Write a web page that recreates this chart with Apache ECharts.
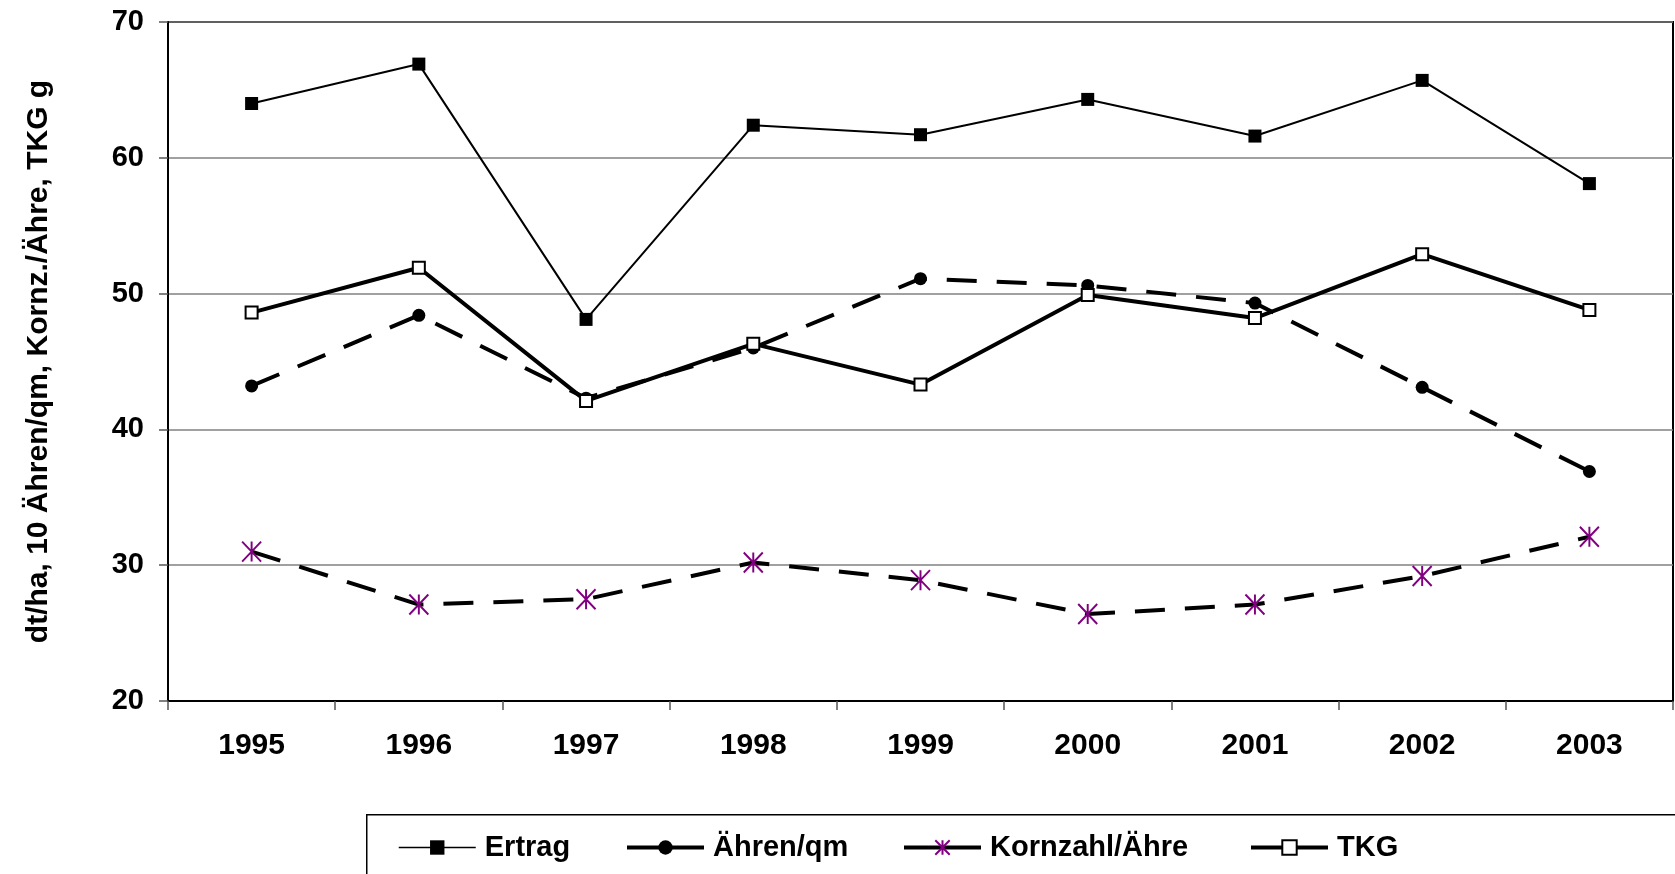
<!DOCTYPE html>
<html>
<head>
<meta charset="utf-8">
<script src="https://cdn.jsdelivr.net/npm/echarts@6/dist/echarts.min.js"></script>
<style>
html,body{margin:0;padding:0;background:#fff;}
#chart{width:1675px;height:874px;}
</style>
</head>
<body>
<div id="chart"></div>
<script>
const years = ['1995','1996','1997','1998','1999','2000','2001','2002','2003'];
const ertrag = [64.0, 66.9, 48.1, 62.4, 61.7, 64.3, 61.6, 65.7, 58.1];
const aehren = [43.2, 48.4, 42.3, 46.0, 51.1, 50.6, 49.3, 43.1, 36.9];
const kornzahl = [31.0, 27.1, 27.5, 30.2, 28.9, 26.4, 27.1, 29.2, 32.1];
const tkg = [48.6, 51.9, 42.1, 46.3, 43.3, 49.9, 48.2, 52.9, 48.8];
const seriesNames = ['Ertrag', 'Ähren/qm', 'Kornzahl/Ähre', 'TKG'];
const yTitle = 'dt/ha, 10 Ähren/qm, Kornz./Ähre, TKG g';

const FONT = '"Liberation Sans", Arial, sans-serif';
const asterisk = 'path://M0,0 L12,14 M12,0 L0,14 M6,0 L6,14';

const legendLeft = [393, 620, 897, 1244];
const legendLineWidth = [1.5, 4, 4, 4];

function mkLegend(i) {
  return {
    left: legendLeft[i], top: 828,
    itemWidth: 77, itemHeight: 18, itemGap: 0,
    lineStyle: { type: 'solid', width: legendLineWidth[i] },
    textStyle: { fontFamily: FONT, fontWeight: 'bold', fontSize: 29, color: '#000', padding: [0, 0, 0, 4] },
    data: [seriesNames[i]]
  };
}

const chart = echarts.init(document.getElementById('chart'));
chart.setOption({
  animation: false,
  backgroundColor: '#fff',
  textStyle: { fontFamily: FONT },
  grid: {
    left: 168, right: 2, top: 22, bottom: 173,
    show: true, borderColor: '#000', borderWidth: 2, backgroundColor: 'transparent'
  },
  graphic: [{
    type: 'rect', left: 366, top: 814, z: -1,
    shape: { width: 1400, height: 120 },
    style: { fill: '#fff', stroke: '#000', lineWidth: 1.5 }
  }],
  legend: [0, 1, 2, 3].map(mkLegend),
  xAxis: {
    type: 'category',
    data: years,
    boundaryGap: true,
    axisLine: { show: true, lineStyle: { color: '#000', width: 2 } },
    axisTick: { show: true, inside: false, length: 9, lineStyle: { color: '#555', width: 1.5 } },
    axisLabel: { fontFamily: FONT, fontWeight: 'bold', fontSize: 30, color: '#000', margin: 30 },
    splitLine: { show: false }
  },
  yAxis: {
    type: 'value',
    min: 20, max: 70, interval: 10,
    name: yTitle,
    nameLocation: 'middle',
    nameGap: 114,
    nameRotate: 90,
    nameTextStyle: { fontFamily: FONT, fontWeight: 'bold', fontSize: 30, color: '#000' },
    axisLine: { show: true, lineStyle: { color: '#000', width: 2 } },
    axisTick: { show: true, inside: false, length: 9, lineStyle: { color: '#555', width: 1.5 } },
    axisLabel: { fontFamily: FONT, fontWeight: 'bold', fontSize: 29, color: '#000', margin: 24 },
    splitLine: { show: true, lineStyle: { color: '#808080', width: 1.5 } }
  },
  series: [
    {
      name: seriesNames[0], type: 'line', data: ertrag,
      symbol: 'rect', symbolSize: 13,
      lineStyle: { color: '#000', width: 2 },
      itemStyle: { color: '#000', borderColor: '#000', borderWidth: 0 },
      z: 4
    },
    {
      name: seriesNames[1], type: 'line', data: aehren,
      symbol: 'circle', symbolSize: 13,
      lineStyle: { color: '#000', width: 4, type: [30, 20] },
      itemStyle: { color: '#000', borderColor: '#000', borderWidth: 0 },
      z: 2
    },
    {
      name: seriesNames[2], type: 'line', data: kornzahl,
      symbol: asterisk, symbolSize: [19, 20],
      lineStyle: { color: '#000', width: 4, type: [30, 20] },
      itemStyle: { color: 'rgba(0,0,0,0)', borderColor: '#800080', borderWidth: 2 },
      z: 3
    },
    {
      name: seriesNames[3], type: 'line', data: tkg,
      symbol: 'rect', symbolSize: 12,
      lineStyle: { color: '#000', width: 4 },
      itemStyle: { color: '#fff', borderColor: '#000', borderWidth: 2 },
      z: 3
    }
  ]
});
</script>
</body>
</html>
